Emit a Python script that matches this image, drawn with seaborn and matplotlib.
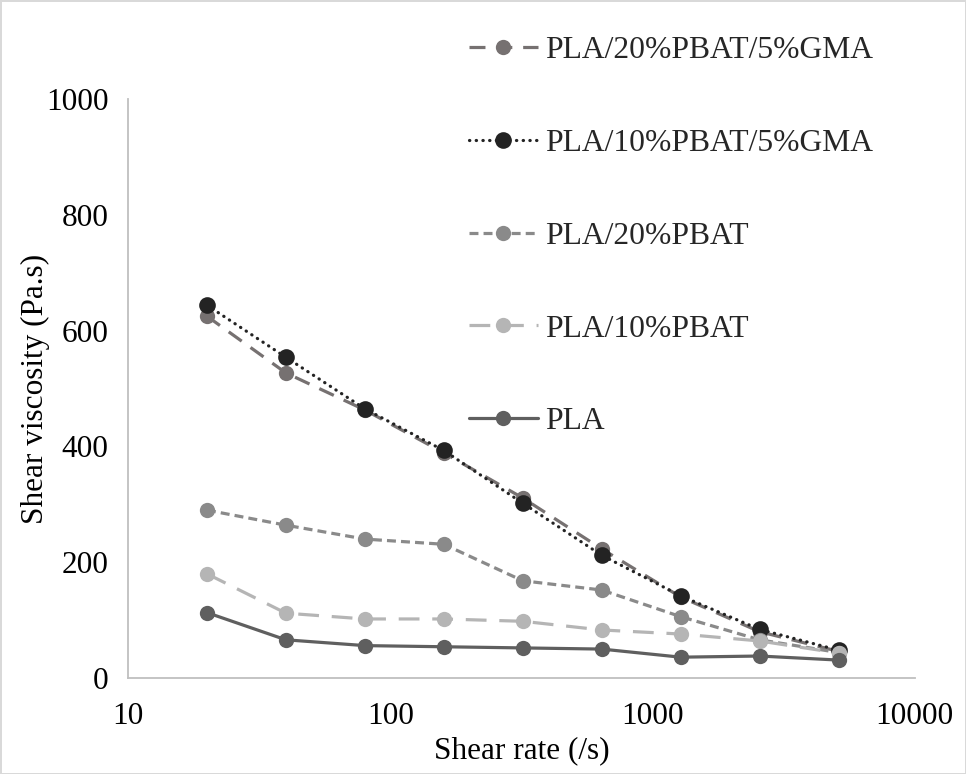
import matplotlib
matplotlib.use("Agg")
import matplotlib.pyplot as plt
from matplotlib.font_manager import FontProperties
import seaborn as sns
import pandas as pd

# Shear rate sweep (1/s) and viscosity per formulation (Pa.s)
shear_rate = [20, 40, 80, 160, 320, 640, 1280, 2560, 5120]
pla_20pbat_5gma = [625, 527, 463, 389, 311, 223, 140, 80, 46]
pla_10pbat_5gma = [644, 554, 465, 393, 302, 212, 142, 84, 48]
pla_20pbat = [290, 264, 240, 231, 168, 152, 106, 66, 44]
pla_10pbat = [180, 112, 102, 102, 98, 83, 76, 64, 43]
pla = [113, 66, 56, 54, 52, 50, 36, 38, 31]

series_names = ["PLA/20%PBAT/5%GMA", "PLA/10%PBAT/5%GMA", "PLA/20%PBAT",
                "PLA/10%PBAT", "PLA"]
series_values = [pla_20pbat_5gma, pla_10pbat_5gma, pla_20pbat, pla_10pbat, pla]
x_ticks = [10, 100, 1000, 10000]
x_tick_labels = ["10", "100", "1000", "10000"]
y_ticks = [0, 200, 400, 600, 800, 1000]

styles = {
    "PLA/20%PBAT/5%GMA": dict(color="#767171", ls=(0, (5.0, 3.4)), ms=11),
    "PLA/10%PBAT/5%GMA": dict(color="#232323", ls=(0, (0.1, 2.0)), ms=12),
    "PLA/20%PBAT": dict(color="#8a8a8a", ls=(0, (2.8, 1.6)), ms=11),
    "PLA/10%PBAT": dict(color="#b5b5b5", ls=(0, (6.5, 4.0)), ms=11),
    "PLA": dict(color="#5f5f5f", ls="-", ms=11),
}

df = pd.concat(
    [pd.DataFrame({"rate": shear_rate, "visc": v, "series": n})
     for n, v in zip(series_names, series_values)],
    ignore_index=True,
)

sns.set_theme(style="white")
plt.rcParams["font.family"] = ["Liberation Serif", "DejaVu Serif"]

FONT = "Liberation Serif"
fp = FontProperties(family=FONT, size=22.5)
fp_leg = FontProperties(family=FONT, size=22.8)

fig = plt.figure(figsize=(9.66, 7.74), dpi=100)
ax = fig.add_axes([0.1325, 0.124, 0.8145, 0.748])

for name in series_names:
    st = styles[name]
    sub = df[df["series"] == name]
    sns.lineplot(data=sub, x="rate", y="visc", ax=ax, color=st["color"],
                 linestyle=st["ls"], linewidth=2.3, marker="o",
                 markersize=st["ms"], markeredgewidth=0,
                 dash_capstyle="round" if name == "PLA/10%PBAT/5%GMA" else "butt",
                 label=name, legend=False, zorder=3)

ax.set_xscale("log")
ax.set_xlim(10, 10000)
ax.set_ylim(0, 1000)
ax.set_xticks(x_ticks)
ax.set_xticklabels(x_tick_labels, fontproperties=fp)
ax.minorticks_off()
ax.set_yticks(y_ticks)
ax.set_yticklabels([str(v) for v in y_ticks], fontproperties=fp)

for side in ["top", "right"]:
    ax.spines[side].set_visible(False)
for side in ["left", "bottom"]:
    ax.spines[side].set_color("#bfbfbf")
    ax.spines[side].set_linewidth(1.3)

ax.tick_params(axis="both", which="major", direction="out", length=7,
               width=1.3, color="#bfbfbf", labelcolor="black")
ax.tick_params(axis="y", pad=7)
ax.tick_params(axis="x", pad=10)

ax.set_xlabel("Shear rate (/s)", fontproperties=fp, color="black", labelpad=4)
ax.set_ylabel("Shear viscosity (Pa.s)", fontproperties=fp, color="black",
              labelpad=-3)

handles, labels = ax.get_legend_handles_labels()
leg = fig.legend(handles, labels, loc="upper left",
                 bbox_to_anchor=(0.472, 0.97), frameon=False,
                 prop=fp_leg, handlelength=2.2, handletextpad=0.2,
                 labelspacing=2.01, borderaxespad=0)

fig.patch.set_edgecolor("#d9d9d9")
fig.patch.set_linewidth(2)
fig.savefig("out.png", dpi=100, facecolor="white", edgecolor="#d9d9d9")
